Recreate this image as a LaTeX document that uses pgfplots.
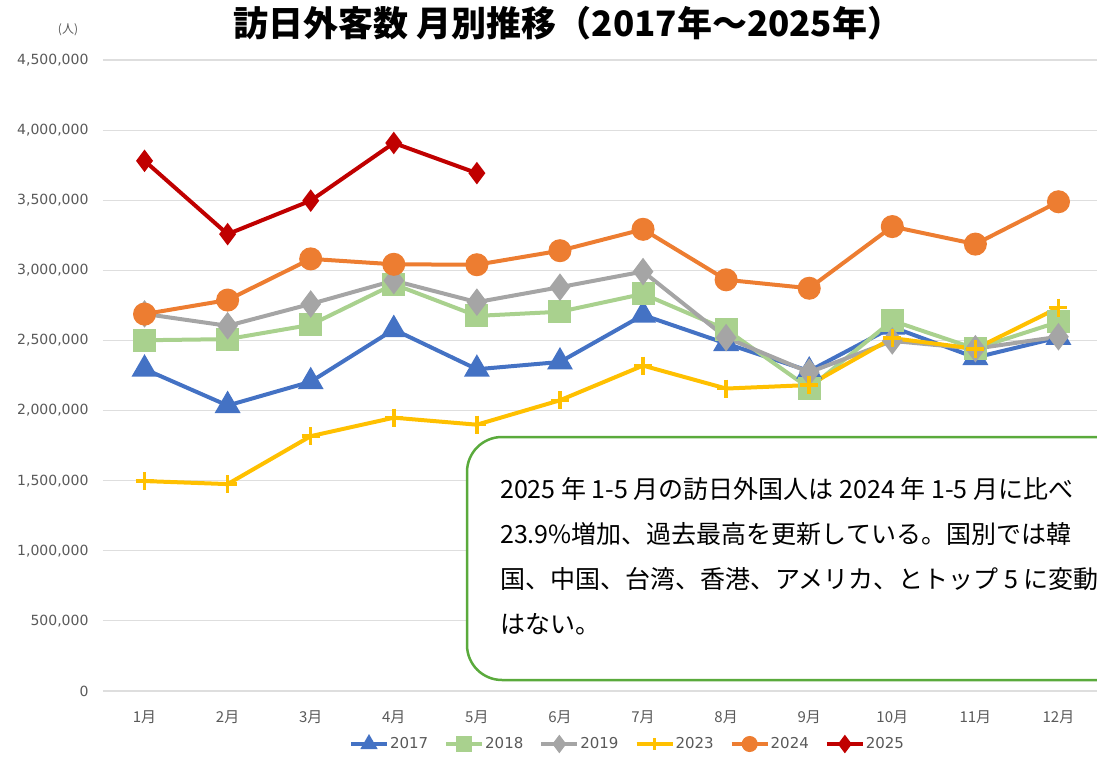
\documentclass[border=0pt]{standalone}
\usepackage{pgfplots}
\pgfplotsset{compat=1.18}
\usepackage{fontspec}
\setmainfont{Noto Sans CJK JP}
\newfontfamily\numfont{DejaVu Sans}
\definecolor{c17}{RGB}{68,114,196}
\definecolor{c18}{RGB}{169,209,142}
\definecolor{c19}{RGB}{165,165,165}
\definecolor{c23}{RGB}{255,192,0}
\definecolor{c24}{RGB}{237,125,49}
\definecolor{c25}{RGB}{192,0,0}
\definecolor{txtgray}{RGB}{89,89,89}
\definecolor{gridgray}{RGB}{222,222,222}
\definecolor{boxgreen}{RGB}{90,170,60}
\begin{document}
\begin{tikzpicture}[x=1pt,y=1pt]
\path[use as bounding box] (0,0) rectangle (1097,756);
\begin{axis}[
  at={(103pt,65pt)}, anchor=south west,
  scale only axis, width=997pt, height=631pt,
  xmin=0.5, xmax=12.5, ymin=0, ymax=4500000,
  xtick={1,2,3,4,5,6,7,8,9,10,11,12},
  xticklabels={1月,2月,3月,4月,5月,6月,7月,8月,9月,10月,11月,12月},
  ytick={0,500000,1000000,1500000,2000000,2500000,3000000,3500000,4000000,4500000},
  scaled y ticks=false,
  yticklabel style={xshift=-11pt, font=\numfont\fontsize{14}{14}\selectfont, /pgf/number format/fixed, /pgf/number format/1000 sep={,}, /pgf/number format/assume math mode=true},
  xticklabel style={yshift=-16pt, font=\fontsize{15}{15}\selectfont},
  ticklabel style={text=txtgray},
  major tick length=0pt,
  ymajorgrids, grid style={gridgray, line width=1.2pt},
  axis line style={draw=none},
  clip=false,
  legend columns=6,
  legend style={at={(0.5256,-0.084)}, anchor=center, draw=none, fill=none,
    font=\numfont\fontsize{15}{15}\selectfont, text=txtgray,
    nodes={inner xsep=1pt},
    /tikz/every even column/.append style={column sep=15pt}},
  legend image code/.code={\draw[mark repeat=2,mark phase=2,#1,mark size=6pt] plot coordinates {(0pt,0pt)(18pt,0pt)(36pt,0pt)};},
  every axis plot/.append style={line width=4pt}
]
\addplot[c17, mark=triangle*, mark size=11pt] coordinates {
(1,2295700)(2,2035800)(3,2205700)(4,2578000)(5,2294600)(6,2346400)(7,2681000)(8,2478000)(9,2281900)(10,2595000)(11,2378000)(12,2521000)};
\addlegendentry{2017}
\addplot[c18, mark=square*, mark size=9.5pt] coordinates {
(1,2501400)(2,2509300)(3,2611300)(4,2900700)(5,2675100)(6,2704600)(7,2832000)(8,2578000)(9,2159600)(10,2640600)(11,2441300)(12,2632000)};
\addlegendentry{2018}
\addplot[c19, mark=diamond*, mark size=10.5pt] coordinates {
(1,2689300)(2,2604300)(3,2760100)(4,2926700)(5,2773100)(6,2880000)(7,2991200)(8,2520100)(9,2272900)(10,2496600)(11,2441300)(12,2526400)};
\addlegendentry{2019}
\addplot[c23, mark=+, mark size=9pt, mark options={line width=3.5pt}] coordinates {
(1,1497300)(2,1475500)(3,1817500)(4,1949100)(5,1899200)(6,2073300)(7,2320600)(8,2156900)(9,2182000)(10,2516500)(11,2440400)(12,2734000)};
\addlegendentry{2023}
\addplot[c24, mark=*, mark size=9.5pt] coordinates {
(1,2688100)(2,2788000)(3,3081600)(4,3042900)(5,3040000)(6,3140000)(7,3292500)(8,2932500)(9,2872200)(10,3312000)(11,3187000)(12,3489000)};
\addlegendentry{2024}
\addplot[c25, mark=diamond*, mark size=8pt] coordinates {
(1,3781000)(2,3258000)(3,3497000)(4,3908000)(5,3693000)};
\addlegendentry{2025}
\end{axis}
\node[font=\fontsize{35}{35}\selectfont\bfseries] at (568,733) {訪日外客数 月別推移（2017年～2025年）};
\node[font=\fontsize{12}{12}\selectfont, text=txtgray] at (68,726) {(人)};
\begin{scope}
\clip (0,0) rectangle (1097,756);
\draw[boxgreen, line width=2.5pt, fill=white, rounded corners=35pt] (467,76) rectangle (1250,319);
\begin{scope}[every node/.style={anchor=base west, inner sep=0pt, font=\fontsize{25}{25}\selectfont}]
\node at (500,258) {2025 年 1-5 月の訪日外国人は 2024 年 1-5 月に比べ};
\node at (500,213) {23.9\%増加、過去最高を更新している。国別では韓};
\node at (500,168) {国、中国、台湾、香港、アメリカ、とトップ 5 に変動};
\node at (500,123) {はない。};
\end{scope}
\end{scope}
\end{tikzpicture}
\end{document}
